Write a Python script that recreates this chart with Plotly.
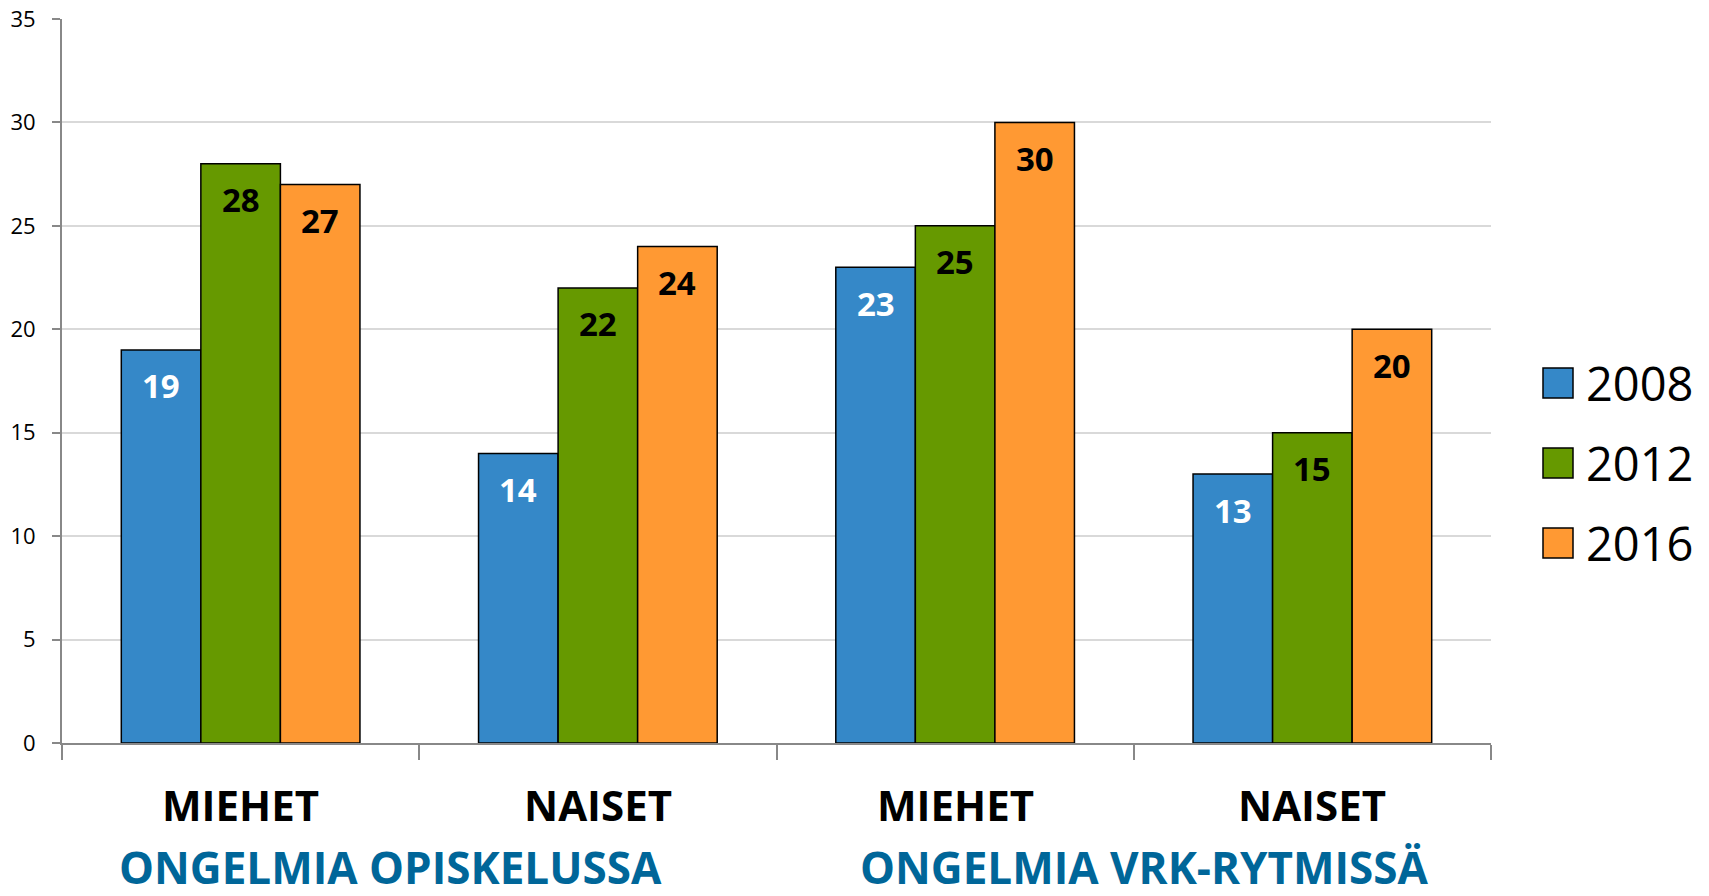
import plotly.graph_objects as go

categories = ["MIEHET", "NAISET", "MIEHET", "NAISET"]
groups = ["ONGELMIA OPISKELUSSA", "ONGELMIA VRK-RYTMISSÄ"]
years = ["2008", "2012", "2016"]
v2008 = [19, 14, 23, 13]
v2012 = [28, 22, 25, 15]
v2016 = [27, 24, 30, 20]
series = [v2008, v2012, v2016]
colors = ["#3588C8", "#669900", "#FF9933"]
label_colors = ["white", "black", "black"]

FONT = "Open Sans"
BARGAP = 0.332
W, H = 1709, 896
ML, MR, MT, MB = 62, 218, 19, 153

fig = go.Figure()
xs = list(range(len(categories)))
for k, (name, vals) in enumerate(zip(years, series)):
    fig.add_trace(go.Bar(
        x=xs, y=vals, name=name, showlegend=False, hoverinfo="skip",
        marker=dict(color=colors[k], line=dict(color="black", width=1.5)),
    ))

bw = (1 - BARGAP) / len(series)
annotations = []
for k, vals in enumerate(series):
    for i, v in enumerate(vals):
        annotations.append(dict(
            x=i + (k - 1) * bw, y=v, xref="x", yref="y", text=f"<b>{v}</b>",
            showarrow=False, yshift=-36,
            font=dict(family=FONT, size=33, color=label_colors[k])))

for i, c in enumerate(categories):
    annotations.append(dict(
        x=i, y=0, xref="x", yref="paper", text=f"<b>{c}</b>", showarrow=False,
        yshift=-61, yanchor="middle",
        font=dict(family=FONT, size=42, color="black")))

group_x = [0.42, 2.53]
for gx, g in zip(group_x, groups):
    annotations.append(dict(
        x=gx, y=0, xref="x", yref="paper", text=f"<b>{g}</b>", showarrow=False,
        yshift=-124, yanchor="middle",
        font=dict(family=FONT, size=44, color="#006699")))

# manual legend with large squares
plot_h = H - MT - MB
shapes = []
leg_y = [383, 463, 543]
for k, name in enumerate(years):
    yp = (H - MB - leg_y[k]) / plot_h
    shapes.append(dict(
        type="rect", xref="paper", yref="paper", xsizemode="pixel", ysizemode="pixel",
        xanchor=1, yanchor=yp, x0=52, x1=82, y0=-15, y1=15,
        fillcolor=colors[k], line=dict(color="black", width=1.5)))
    annotations.append(dict(
        x=1, y=yp, xref="paper", yref="paper", text=name, showarrow=False,
        xanchor="left", yanchor="middle", xshift=93,
        font=dict(family=FONT, size=47, color="black")))

fig.update_layout(
    width=W, height=H,
    margin=dict(l=ML, r=MR, t=MT, b=MB, autoexpand=False),
    paper_bgcolor="white", plot_bgcolor="white",
    barmode="group", bargap=BARGAP, bargroupgap=0,
    annotations=annotations, shapes=shapes,
    xaxis=dict(
        range=[-0.5, len(categories) - 0.5],
        tickvals=[i - 0.5 for i in range(len(categories) + 1)],
        ticktext=[""] * (len(categories) + 1),
        ticks="outside", ticklen=15, tickwidth=2, tickcolor="#888888",
        showgrid=False, showline=True, linecolor="#888888", linewidth=2,
        zeroline=False, automargin=False,
    ),
    yaxis=dict(
        range=[0, 35], dtick=5, tick0=0,
        ticks="outside", ticklen=8, tickwidth=2, tickcolor="#888888",
        showgrid=True, gridcolor="#D9D9D9", gridwidth=2,
        showline=True, linecolor="#888888", linewidth=2, zeroline=False,
        tickfont=dict(family=FONT, size=22, color="black"),
        ticklabelstandoff=12, automargin=False,
    ),
)

fig.write_html(
    "out.html",
    config={"displayModeBar": False},
    post_script="document.body.style.margin='0';document.body.style.overflow='hidden';",
)
